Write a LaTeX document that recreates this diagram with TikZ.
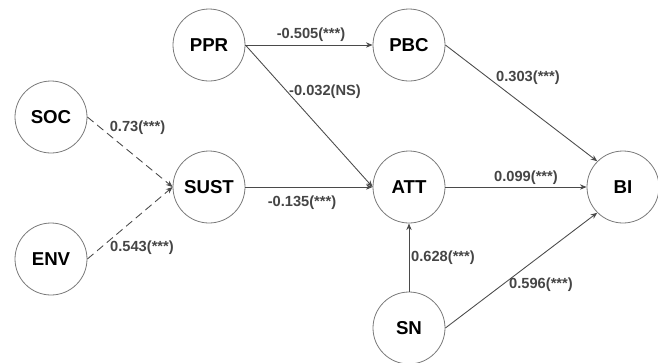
\documentclass[tikz,border=0pt]{standalone}
\usepackage{fontspec}
\setmainfont{Liberation Sans}
\usetikzlibrary{arrows.meta,positioning,calc}
\definecolor{ink}{HTML}{4A4A4A}
\definecolor{rim}{HTML}{7A7A7A}
\definecolor{coefgray}{HTML}{454545}
\tikzset{latent/.style={circle,draw=rim,line width=0.6pt,fill=white,minimum size=54pt,inner sep=0pt,font=\fontsize{14}{16}\selectfont\bfseries,text=black},link/.style={-{Stealth[length=5pt,width=4pt]},line width=0.65pt,draw=ink},dlink/.style={link,dash pattern=on 6pt off 3.5pt},coef/.style={font=\fontsize{11}{13}\selectfont\bfseries,text=coefgray,inner sep=0pt}}
\begin{document}
\begin{tikzpicture}[x=0.75pt,y=-0.75pt]
\useasboundingbox (0,0) rectangle (658,362);
\node[latent] (soc) at (51,117) {SOC};
\node[latent] (env) at (51,259) {ENV};
\node[latent] (sust) at (209,187) {SUST};
\node[latent] (ppr) at (209,45) {PPR};
\node[latent] (pbc) at (409,45) {PBC};
\node[latent] (att) at (409,187) {ATT};
\node[latent] (bi) at (623,187) {BI};
\node[latent] (sn) at (409,328) {SN};
\draw[dlink](soc.east)--(sust.west);\draw[dlink](env.east)--(sust.west);
\draw[link](ppr)--(pbc);\draw[link](ppr.east)--(att.west);
\draw[link](sust)--(att);\draw[link](att)--(bi);
\draw[link](pbc.east)--(bi.north west);\draw[link](sn)--(att);
\draw[link](sn.east)--(bi.south west);
\node[coef] (c1) at (137.5,128) {0.73(***)};
\node[coef] (c2) at (142,248) {0.543(***)};
\node[coef] (c3) at (311,35) {-0.505(***)};
\node[coef] (c4) at (325,92) {-0.032(NS)};
\node[coef] (c5) at (302,203) {-0.135(***)};
\node[coef] (c6) at (528,78) {0.303(***)};
\node[coef] (c7) at (526,178) {0.099(***)};
\node[coef] (c8) at (443,258) {0.628(***)};
\node[coef] (c9) at (541,285) {0.596(***)};
\end{tikzpicture}
\end{document}
